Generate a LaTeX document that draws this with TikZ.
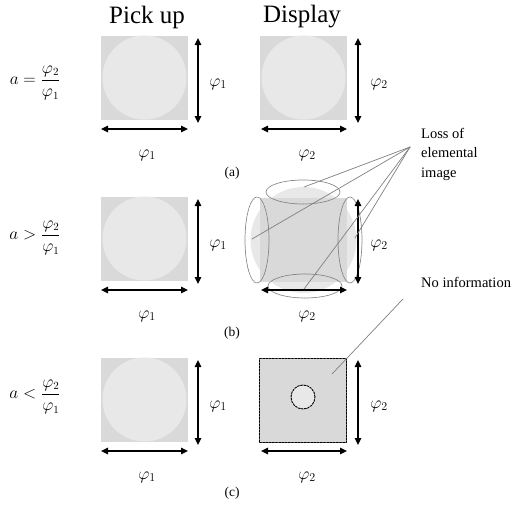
\documentclass[tikz,border=0pt]{standalone}
\usepackage{fontspec}
\setmainfont{Liberation Serif}
\usetikzlibrary{arrows.meta,calc}

\definecolor{sqgray}{gray}{0.85}
\definecolor{circgray}{gray}{0.91}
\definecolor{leadgray}{gray}{0.5}

\tikzset{
  title/.style={font=\fontsize{25}{28}\selectfont},
  sq/.style={fill=sqgray, minimum width=87pt, minimum height=84pt, inner sep=0pt},
  dashsq/.style={draw=black, line width=0.9pt, dash pattern=on 2pt off 1.2pt},
  hole/.style={circle, fill=circgray, draw=black, line width=0.9pt,
    dash pattern=on 2pt off 1.2pt, minimum size=24pt, inner sep=0pt},
  dim/.style={{Triangle[length=7pt,width=6.5pt]}-{Triangle[length=7pt,width=6.5pt]},
    line width=1.3pt},
  lossel/.style={draw=leadgray, line width=0.7pt, dash pattern=on 0.8pt off 0.6pt},
  leader/.style={draw=leadgray, line width=0.7pt},
  lab/.style={font=\fontsize{17.5}{20}\selectfont},
  note/.style={font=\fontsize{14.5}{19.5}\selectfont, align=left, inner sep=0pt}
}

\begin{document}
\begin{tikzpicture}[x=1pt, y=-1pt, line cap=round, line join=round]
  \useasboundingbox (0,0) rectangle (520,506);

  % --- headings ---
  \node[title] (tpick) at (147,17) {Pick up};
  \node[title] (tdisp) at (302,17) {Display};

  % --- pick up column, the same in the three rows ---
  \foreach \r/\dy/\rel/\ey/\cy in {a/0/=/83/173, b/161/>/238/333, c/322/</397/493} {
    \node[sq] (p\r) at (144.5,77.5+\dy) {};
    \fill[circgray] (p\r.center) circle (42pt);
    \coordinate (p\r-vt) at (198,38+\dy);
    \coordinate (p\r-vb) at (198,123+\dy);
    \coordinate (p\r-hl) at (101,129+\dy);
    \coordinate (p\r-hr) at (188,129+\dy);
    \draw[dim] (p\r-vt) -- (p\r-vb);
    \draw[dim] (p\r-hl) -- (p\r-hr);
    \node[lab] (p\r-lv) at (218,84+\dy) {$\varphi_1$};
    \node[lab] (p\r-lh) at (147,155+\dy) {$\varphi_1$};
    % ratio at the left, row caption in the middle
    \node[font=\fontsize{16}{19}\selectfont] (eq\r) at (35,\ey)
      {$a\rel\displaystyle\frac{\varphi_2}{\varphi_1}$};
    \node[font=\fontsize{13.5}{16}\selectfont] (cap\r) at (232,\cy) {(\r)};
  }

  % --- display column ---
  % (a) same size
  \node[sq] (da) at (303.5,77.5) {};
  \fill[circgray] (da.center) circle (42pt);
  % (b) larger image, parts cut off
  \fill[circgray] (303.5,240) circle (53pt);
  \node[sq] (db) at (303.5,239.5) {};
  \coordinate (elt) at (303,192);
  \coordinate (elb) at (305,286);
  \coordinate (ell) at (257,240);
  \coordinate (elr) at (350,240);
  \draw[lossel] (elt) ellipse [x radius=37pt, y radius=12pt];
  \draw[lossel] (elb) ellipse [x radius=37pt, y radius=12pt];
  \draw[lossel] (ell) ellipse [x radius=12pt, y radius=43pt];
  \draw[lossel] (elr) ellipse [x radius=12pt, y radius=43pt];
  % (c) smaller image, rest empty
  \node[sq, dashsq] (dc) at (303,400.5) {};
  \node[hole] (dch) at (303,397) {};

  % dimension arrows of the display column
  \foreach \r/\dy in {a/0, b/161, c/322} {
    \coordinate (d\r-vt) at (358,38+\dy);
    \coordinate (d\r-vb) at (358,123+\dy);
    \coordinate (d\r-hl) at (261,129+\dy);
    \coordinate (d\r-hr) at (347,129+\dy);
    \draw[dim] (d\r-vt) -- (d\r-vb);
    \draw[dim] (d\r-hl) -- (d\r-hr);
    \node[lab] (d\r-lv) at (379,84+\dy) {$\varphi_2$};
    \node[lab] (d\r-lh) at (307,155+\dy) {$\varphi_2$};
  }

  % --- notes and leader lines ---
  \node[note, anchor=north west] (loss) at (421,128) {Loss of\\elemental\\image};
  \coordinate (lossp) at (410,147);
  \coordinate (et) at (304,187);
  \coordinate (el) at (252,239);
  \coordinate (er) at (355,238);
  \coordinate (eb) at (304,289);
  \foreach \e in {et,el,er,eb} \draw[leader] (lossp) -- (\e);

  \node[note, anchor=west] (noinf) at (421,282) {No information};
  \coordinate (noinfp) at (403,299);
  \coordinate (dcin) at (332,374);
  \draw[leader] (noinfp) -- (dcin);
\end{tikzpicture}
\end{document}
